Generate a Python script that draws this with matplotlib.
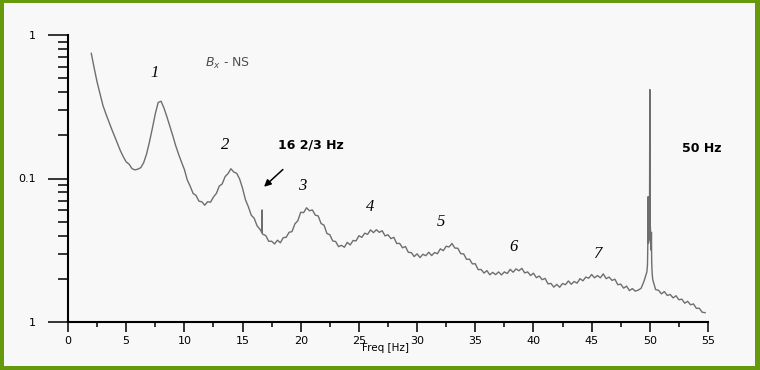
import numpy as np
import matplotlib
matplotlib.use("Agg")
import matplotlib.pyplot as plt
from matplotlib.patches import Rectangle
from matplotlib.ticker import LogLocator, NullFormatter, MultipleLocator

# spectrum, log10 of amplitude, 0.25 Hz steps from 2 Hz
trace_start = 2.0
trace_step = 0.25
trace_log = [
    -0.128, -0.230, -0.328, -0.410, -0.490, -0.548, -0.602, -0.655,   # 2
    -0.706, -0.755, -0.806, -0.848, -0.884, -0.900, -0.931, -0.940,   # 4
    -0.935, -0.925, -0.890, -0.830, -0.745, -0.650, -0.550, -0.470,   # 6
    -0.462, -0.510, -0.570, -0.635, -0.700, -0.770, -0.830, -0.885,   # 8
    -0.937, -1.010, -1.054, -1.104, -1.118, -1.158, -1.162, -1.186,   # 10
    -1.162, -1.165, -1.129, -1.104, -1.053, -1.038, -0.987, -0.966,   # 12
    -0.932, -0.955, -0.964, -1.004, -1.068, -1.148, -1.197, -1.256,   # 14
    -1.277, -1.330, -1.354, -1.389, -1.398, -1.438, -1.437, -1.456,   # 16
    -1.430, -1.448, -1.412, -1.410, -1.375, -1.370, -1.316, -1.294,   # 18
    -1.235, -1.238, -1.204, -1.225, -1.219, -1.255, -1.261, -1.314,   # 20
    -1.325, -1.383, -1.392, -1.435, -1.439, -1.475, -1.466, -1.479,   # 22
    -1.445, -1.463, -1.432, -1.435, -1.399, -1.410, -1.381, -1.389,   # 24
    -1.358, -1.377, -1.357, -1.375, -1.364, -1.400, -1.392, -1.419,   # 26
    -1.410, -1.453, -1.452, -1.483, -1.474, -1.515, -1.516, -1.544,   # 28
    -1.525, -1.551, -1.528, -1.538, -1.514, -1.537, -1.516, -1.524,   # 30
    -1.490, -1.503, -1.472, -1.477, -1.453, -1.485, -1.486, -1.524,   # 32
    -1.525, -1.563, -1.562, -1.595, -1.594, -1.635, -1.634, -1.659,   # 34
    -1.642, -1.671, -1.654, -1.670, -1.651, -1.672, -1.651, -1.662,   # 36
    -1.633, -1.653, -1.630, -1.643, -1.626, -1.658, -1.651, -1.676,   # 38
    -1.660, -1.691, -1.680, -1.705, -1.696, -1.734, -1.731, -1.757,   # 40
    -1.738, -1.758, -1.732, -1.740, -1.714, -1.737, -1.718, -1.729,   # 42
    -1.698, -1.713, -1.687, -1.695, -1.669, -1.692, -1.676, -1.692,   # 44
    -1.665, -1.698, -1.687, -1.710, -1.702, -1.740, -1.736, -1.764,   # 46
    -1.750, -1.781, -1.767, -1.785, -1.778, -1.765, -1.716, -1.650,   # 48
]

# 50 Hz mains line
mains_freq = [49.80, 49.84, 49.86, 49.88, 49.97, 50.00, 50.03, 50.12, 50.14, 50.16, 50.20]
mains_log = [-1.60, -1.40, -1.126, -1.45, -1.42, -0.38, -1.30, -1.50, -1.375, -1.58, -1.66]

# tail after the mains line, 0.25 Hz steps from 50.25 Hz
tail_start = 50.25
tail_log = [
    -1.705, -1.774, -1.779, -1.804, -1.788, -1.815, -1.808, -1.832,
    -1.817, -1.845, -1.841, -1.869, -1.856, -1.880, -1.874, -1.905,
    -1.904, -1.932, -1.935,
]

# 16 2/3 Hz railway line
rail_freq = [16.66, 16.68, 16.70]
rail_log = [-1.372, -1.219, -1.380]

harmonic_names = ["1", "2", "3", "4", "5", "6", "7"]
y_ticks = [0.01, 0.1, 1]
y_tick_labels = ["1", "0.1", "1"]
x_ticks = list(range(0, 56, 5))

green = "#67990c"
line_grey = "#6e6e6e"

freq = np.concatenate([
    trace_start + trace_step * np.arange(len(trace_log)),
    mains_freq,
    tail_start + trace_step * np.arange(len(tail_log)),
])
amp = 10.0 ** np.concatenate([trace_log, mains_log, tail_log])

fig = plt.figure(figsize=(7.6, 3.7), dpi=100)
fig.patch.set_facecolor(green)
fig.add_artist(Rectangle((4 / 760, 4 / 370), 751 / 760, 363 / 370,
                         transform=fig.transFigure, facecolor="#f8f8f8",
                         edgecolor="none", zorder=-10))

ax = fig.add_axes([68 / 760, 1 - 322 / 370, 640 / 760, 287 / 370])
ax.set_facecolor("none")

ax.plot(freq, amp, color=line_grey, lw=1.0)
ax.plot(rail_freq, 10.0 ** np.array(rail_log), color=line_grey, lw=1.0)

ax.set_yscale("log")
ax.set_xlim(0, 55)
ax.set_ylim(0.01, 1)

for side in ["top", "right"]:
    ax.spines[side].set_visible(False)
for side in ["left", "bottom"]:
    ax.spines[side].set_linewidth(1.5)
    ax.spines[side].set_color("black")

ax.set_yticks(y_ticks, y_tick_labels)
ax.yaxis.set_minor_locator(LogLocator(base=10, subs=np.arange(2, 10)))
ax.yaxis.set_minor_formatter(NullFormatter())
ax.tick_params(axis="y", which="major", length=14.4, width=1.1, pad=9,
               labelsize=8)
ax.tick_params(axis="y", which="minor", length=7.2, width=1.1)

ax.set_xticks(x_ticks)
ax.xaxis.set_minor_locator(MultipleLocator(2.5))
ax.tick_params(axis="x", which="major", length=7.2, width=1.1, pad=3,
               labelsize=8)
ax.tick_params(axis="x", which="minor", length=3.6, width=1.1)

fig.text(386 / 760, 1 - 348 / 370, "Freq [Hz]", fontsize=7.5,
         ha="center", va="center")

# resonance numbers
label_f = [7.47, 13.49, 20.1, 25.95, 32.04, 38.32, 45.45]
label_y = [0.542, 0.170, 0.0893, 0.0637, 0.050, 0.0334, 0.0299]
for name, f, y in zip(harmonic_names, label_f, label_y):
    ax.text(f, y, name, fontsize=12, family="Liberation Serif",
            style="italic", ha="center", va="center")

ax.text(11.77, 0.637, r"$B_x$ - NS", fontsize=9, color="#505050",
        va="center")
ax.text(18.04, 0.170, "16 2/3 Hz", fontsize=9, fontweight="bold",
        va="center")
ax.text(52.75, 0.162, "50 Hz", fontsize=9, fontweight="bold", va="center")
ax.annotate("", xy=(16.67, 0.085), xytext=(18.64, 0.119),
            arrowprops=dict(arrowstyle="-|>", color="black", lw=1.1,
                            mutation_scale=10))

fig.savefig("out.png", dpi=100, facecolor=fig.get_facecolor())
